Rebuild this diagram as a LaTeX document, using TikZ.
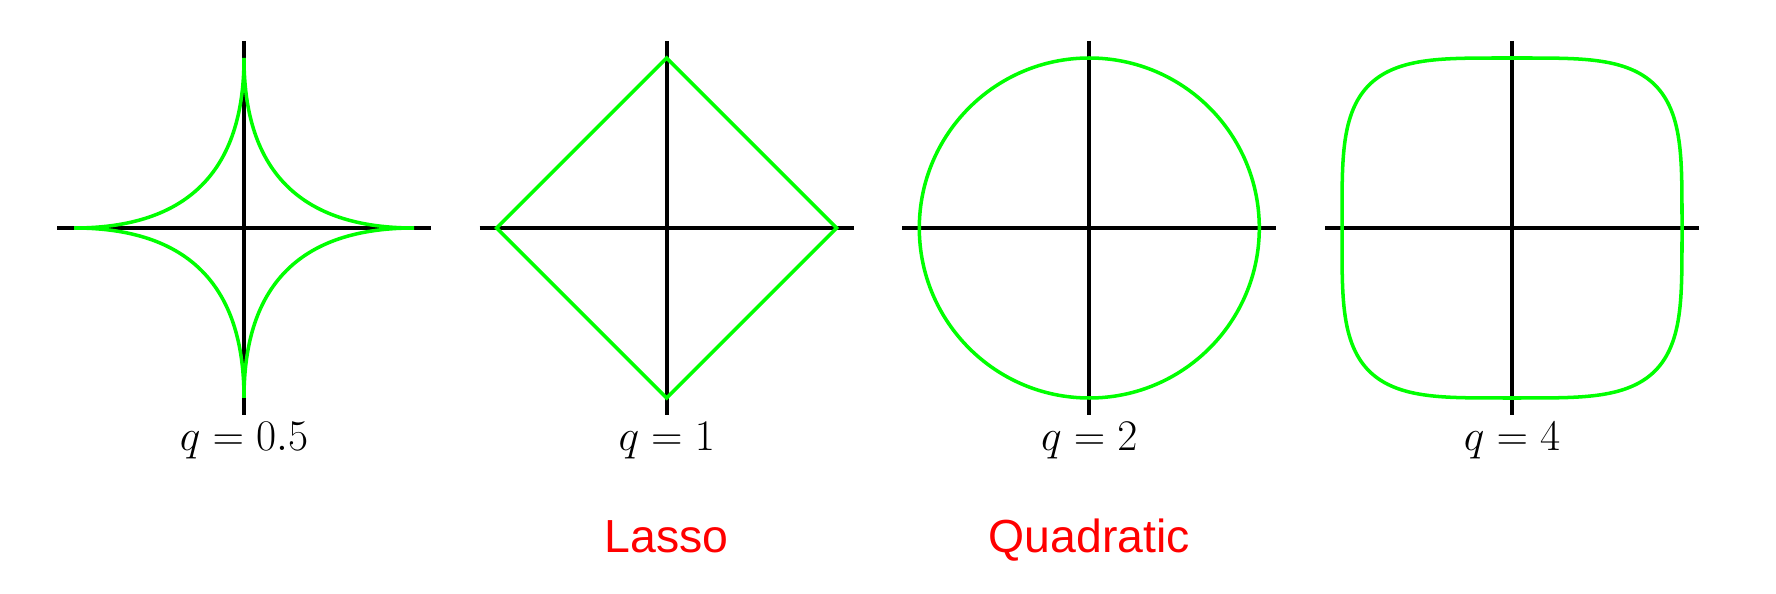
\documentclass[tikz,border=0pt]{standalone}
\usepackage{amsmath}
\usepackage{fontspec}
\usepackage{tikz}
\usetikzlibrary{calc, positioning}

\newfontfamily\namefont{Liberation Sans}
\definecolor{normgreen}{RGB}{0,255,0}
\definecolor{namered}{RGB}{255,0,0}

\begin{document}
\begin{tikzpicture}[x=0.02cm, y=-0.02cm,
    axis/.style={line width=2.3pt, black},
    ball/.style={line width=2pt, normgreen},
    qlabel/.style={anchor=base, font=\fontsize{23}{26}\selectfont},
    namelabel/.style={anchor=base, text=namered, font=\namefont\fontsize{26.4}{30}\selectfont}]

    % =================================================================
    % 1. KHUNG HINH VA TAM CAC HE TRUC
    % =================================================================
    \useasboundingbox (0,0) rectangle (1776,594);

    \coordinate (O1) at (244,228);
    \coordinate (O2) at (666.7,228);
    \coordinate (O3) at (1089.3,228);
    \coordinate (O4) at (1512,228);

    % =================================================================
    % 2. CAC TRUC TOA DO
    % =================================================================
    \foreach \c in {O1,O2,O3,O4} {
        \draw[axis] ($(\c)+(-187,0)$) -- ($(\c)+(187,0)$);
        \draw[axis] ($(\c)+(0,-187)$) -- ($(\c)+(0,187)$);
    }

    % =================================================================
    % 3. CAC QUA CAU DON VI
    % =================================================================
    % q = 0.5
    \begin{scope}[shift={(O1)}]
        \draw[ball] plot[domain=0:360, samples=361]
            ({170*sign(cos(\x))*pow(abs(cos(\x)),4)}, {170*sign(sin(\x))*pow(abs(sin(\x)),4)}) -- cycle;
    \end{scope}

    % q = 1
    \begin{scope}[shift={(O2)}]
        \draw[ball] (170,0) -- (0,-170) -- (-170,0) -- (0,170) -- cycle;
    \end{scope}

    % q = 2
    \begin{scope}[shift={(O3)}]
        \draw[ball] (0,0) circle (170);
    \end{scope}

    % q = 4
    \begin{scope}[shift={(O4)}]
        \draw[ball] plot[domain=0:360, samples=361]
            ({170*sign(cos(\x))*sqrt(abs(cos(\x)))}, {170*sign(sin(\x))*sqrt(abs(sin(\x)))}) -- cycle;
    \end{scope}

    % =================================================================
    % 4. NHAN
    % =================================================================
    \node[qlabel] (q1) at ($(O1)+(0,223)$) {$q=0.5$};
    \node[qlabel] (q2) at ($(O2)+(0,223)$) {$q=1$};
    \node[qlabel] (q3) at ($(O3)+(0,223)$) {$q=2$};
    \node[qlabel] (q4) at ($(O4)+(0,223)$) {$q=4$};

    \node[namelabel] (lasso) at ($(O2)+(0,325)$) {Lasso};
    \node[namelabel] (quad) at ($(O3)+(0,325)$) {Quadratic};

\end{tikzpicture}
\end{document}
